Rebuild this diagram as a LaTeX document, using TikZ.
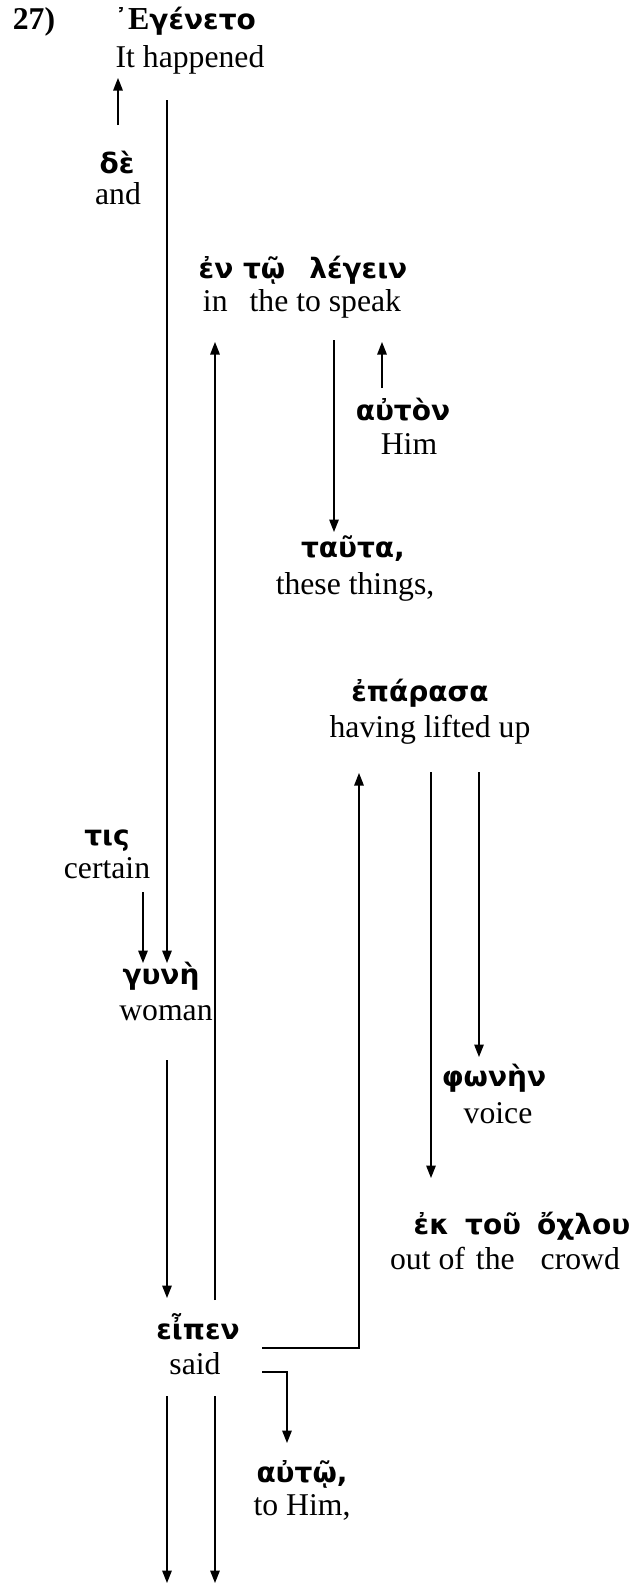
\documentclass[tikz,border=0pt]{standalone}
\usepackage{fontspec}
\setmainfont{Liberation Serif}
\newfontfamily\grk{DejaVu Sans}
\usetikzlibrary{arrows.meta}
\begin{document}
\begin{tikzpicture}[x=1pt,y=-1pt,
  en/.style={anchor=mid,inner sep=0pt,font=\fontsize{31.7}{36}\selectfont},
  gr/.style={anchor=mid,inner sep=0pt,font=\fontsize{28}{32}\selectfont\grk\bfseries},
  arr/.style={line width=1.4pt,-{Triangle[width=9.5pt,length=12.5pt]}},
  ln/.style={line width=1.4pt}]
\useasboundingbox (0,0) rectangle (637,1585);
% texts
\node[en,font=\fontsize{31.7}{36}\selectfont\bfseries] (num) at (34,27) {27)};
\node[gr] (gEgeneto) at (185,27) {᾿{\fontsize{32}{36}\selectfont\rmfamily\bfseries Ε}γένετο};
\node[en] (eEgeneto) at (190,65) {It happened};
\node[gr] (gDe) at (117,171) {δὲ};
\node[en] (eDe) at (118,202) {and};
\node[gr] (gLegein) at (303,276) {ἐν τῷ\hspace{24pt}λέγειν};
\node[en] (eLegein) at (302,309) {in\hspace{22pt}the to speak};
\node[gr] (gAuton) at (403,418) {αὐτὸν};
\node[en] (eAuton) at (409,452) {Him};
\node[gr] (gTauta) at (353,555) {ταῦτα,};
\node[en] (eTauta) at (355,592) {these things,};
\node[gr] (gEparasa) at (420,699) {ἐπάρασα};
\node[en] (eEparasa) at (430,735) {having lifted up};
\node[gr] (gTis) at (107,843) {τις};
\node[en] (eTis) at (107,876) {certain};
\node[gr] (gGyne) at (161,982) {γυνὴ};
\node[en] (eGyne) at (166,1018) {woman};
\node[gr] (gPhonen) at (494,1084) {φωνὴν};
\node[en] (ePhonen) at (498,1121) {voice};
\node[gr] (gOchlou) at (522,1232) {ἐκ\hspace{16pt}τοῦ\hspace{16pt}ὄχλου};
\node[en] (eOchlou) at (505,1267) {out of\hspace{11pt}the\hspace{26pt}crowd};
\node[gr] (gEipen) at (198,1337) {εἶπεν};
\node[en] (eEipen) at (195,1372) {said};
\node[gr] (gAuto) at (302,1480) {αὐτῷ,};
\node[en] (eAuto) at (302,1513) {to Him,};
% connector end points
\coordinate (a1s) at (118,125); \coordinate (a1e) at (118,78);
\coordinate (a2s) at (167,100); \coordinate (a2e) at (167,963);
\coordinate (a3s) at (215,1300); \coordinate (a3e) at (215,342);
\coordinate (a4s) at (334,340); \coordinate (a4e) at (334,532);
\coordinate (a5s) at (382,388); \coordinate (a5e) at (382,342);
\coordinate (a6s) at (262,1348); \coordinate (a6m) at (359,1348); \coordinate (a6e) at (359,773);
\coordinate (a7s) at (431,772); \coordinate (a7e) at (431,1178);
\coordinate (a8s) at (479,772); \coordinate (a8e) at (479,1057);
\coordinate (a9s) at (143,892); \coordinate (a9e) at (143,963);
\coordinate (a10s) at (167,1060); \coordinate (a10e) at (167,1298);
\coordinate (a11s) at (262,1372); \coordinate (a11m) at (287,1372); \coordinate (a11e) at (287,1443);
\coordinate (a12s) at (167,1396); \coordinate (a12e) at (167,1583);
\coordinate (a13s) at (215,1396); \coordinate (a13e) at (215,1583);
% connectors
\draw[arr] (a1s) -- (a1e);
\draw[arr] (a2s) -- (a2e);
\draw[arr] (a3s) -- (a3e);
\draw[arr] (a4s) -- (a4e);
\draw[arr] (a5s) -- (a5e);
\draw[arr] (a6s) -- (a6m) -- (a6e);
\draw[arr] (a7s) -- (a7e);
\draw[arr] (a8s) -- (a8e);
\draw[arr] (a9s) -- (a9e);
\draw[arr] (a10s) -- (a10e);
\draw[arr] (a11s) -- (a11m) -- (a11e);
\draw[arr] (a12s) -- (a12e);
\draw[arr] (a13s) -- (a13e);
\end{tikzpicture}
\end{document}
